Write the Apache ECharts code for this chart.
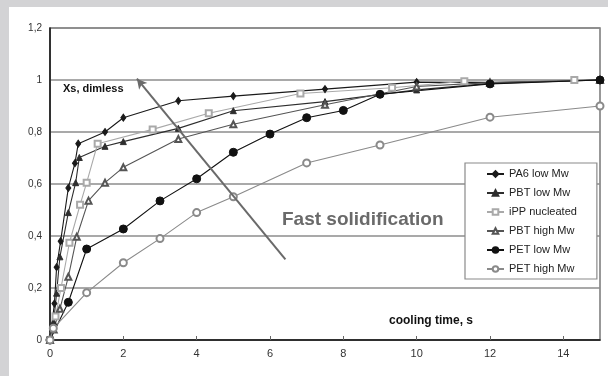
<!DOCTYPE html>
<html><head><meta charset="utf-8">
<script src="https://cdn.jsdelivr.net/npm/echarts@6/dist/echarts.min.js"></script>
<style>
html,body{margin:0;padding:0;background:#d3d3d5;width:608px;height:376px;overflow:hidden}
#c{position:absolute;left:9px;top:7px;width:599px;height:369px;background:#fff}
</style></head>
<body><div id="c"></div>
<script>
const seriesNames = ['PA6 low Mw','PBT low Mw','iPP nucleated','PBT high Mw','PET low Mw','PET high Mw'];
const pa6Low = [[0,0],[0.12,0.14],[0.18,0.28],[0.29,0.38],[0.5,0.585],[0.68,0.68],[0.77,0.755],[1.5,0.8],[2,0.855],[3.5,0.92],[5,0.938],[7.5,0.965],[10,0.992],[12,0.99],[15,1.0]];
const pbtLow = [[0,0],[0.1,0.07],[0.18,0.18],[0.27,0.32],[0.5,0.49],[0.7,0.605],[0.8,0.702],[1.5,0.745],[2,0.763],[3.5,0.814],[5,0.882],[7.5,0.917],[10,0.962],[12,0.987],[15,1.0]];
const ippNuc = [[0,0],[0.15,0.09],[0.3,0.2],[0.53,0.374],[0.82,0.52],[1.0,0.605],[1.3,0.755],[2.8,0.81],[4.33,0.872],[6.83,0.948],[9.33,0.97],[11.3,0.995],[14.3,1.0]];
const pbtHigh = [[0,0],[0.1,0.04],[0.27,0.12],[0.5,0.243],[0.73,0.397],[1.05,0.536],[1.5,0.605],[2,0.664],[3.5,0.773],[5,0.83],[7.5,0.905],[10,0.975],[12,0.99],[15,1.0]];
const petLow = [[0,0],[0.5,0.145],[1,0.35],[2,0.427],[3,0.535],[4,0.62],[5,0.722],[6,0.792],[7,0.855],[8,0.883],[9,0.945],[12,0.985],[15,1.0]];
const petHigh = [[0,0],[0.09,0.045],[1,0.182],[2,0.297],[3,0.39],[4,0.49],[5,0.551],[7,0.681],[9,0.75],[12,0.857],[15,0.9]];
const arrowStart = [6.42, 0.31];
const arrowEnd = [2.37, 1.005];
const xTicks = [0,2,4,6,8,10,12,14];
const yTicks = [0,0.2,0.4,0.6,0.8,1,1.2];

const symbols = ['diamond','triangle','emptyRect','emptyTriangle','circle','emptyCircle'];
const sizes = [[5,7],6,6,6,8,7];
const colors = ['#1a1a1a','#2e2e2e','#a9a9a9','#555555','#111111','#8a8a8a'];
const datas = [pa6Low,pbtLow,ippNuc,pbtHigh,petLow,petHigh];

const chart = echarts.init(document.getElementById('c'), null, {renderer:'canvas'});
const series = datas.map((d,i)=>({
  name: seriesNames[i], type:'line', data:d, symbol:symbols[i], symbolSize:sizes[i],
  showAllSymbol:true, smooth:false, z: 3,
  itemStyle:{color:colors[i], borderColor:colors[i], borderWidth:1},
  lineStyle:{color:colors[i], width:1.1}
}));
series.push({
  type:'line', data:[], silent:true, z:4,
  markLine:{silent:true, symbol:['none','arrow'], symbolSize:[8,10], animation:false,
    lineStyle:{color:'#6a6a6a', width:2, type:'solid'}, label:{show:false},
    data:[[{coord:arrowStart},{coord:arrowEnd}]]}
});

chart.setOption({
  animation:false,
  backgroundColor:'#fff',
  grid:{left:41, right:8, top:21, bottom:36, show:true, borderColor:'#777', borderWidth:1.5},
  xAxis:{type:'value', min:0, max:15, interval:2,
    axisLine:{lineStyle:{color:'#111', width:1.5}},
    axisTick:{inside:true, length:4, lineStyle:{color:'#666'}},
    axisLabel:{color:'#333', fontSize:11, fontFamily:'Liberation Sans', margin:8, showMaxLabel:false,
      formatter:v=> xTicks.includes(v)? String(v):''},
    splitLine:{show:false}},
  yAxis:{type:'value', min:0, max:1.2, interval:0.2,
    axisLine:{show:true, lineStyle:{color:'#111', width:1.5}},
    axisTick:{show:false},
    axisLabel:{color:'#333', fontSize:10, fontFamily:'Liberation Sans', margin:8,
      formatter:v=>{const t=yTicks.find(k=>Math.abs(k-v)<1e-6); if(t===undefined) return ''; return t===0?'0':(Number.isInteger(t)?String(t):t.toFixed(1).replace('.',','));}},
    splitLine:{show:true, lineStyle:{color:'#8c8c8c', width:1.5}}},
  legend:{orient:'vertical', left:456, top:156, data:seriesNames,
    backgroundColor:'#fff', borderColor:'#8a8a8a', borderWidth:1.2,
    padding:[5,20,4,21], itemWidth:17, itemHeight:7, itemGap:7,
    textStyle:{color:'#222', fontSize:11, fontFamily:'Liberation Sans', lineHeight:12}},
  graphic:[
    {type:'text', left:54, top:76, style:{text:'Xs, dimless', font:'bold 11px "Liberation Sans"', fill:'#111'}},
    {type:'text', left:273, top:203, style:{text:'Fast solidification', font:'bold 19px "Liberation Sans"', fill:'#6a6a6a'}},
    {type:'text', left:380, top:308, style:{text:'cooling time, s', font:'bold 12px "Liberation Sans"', fill:'#111'}}
  ],
  series: series
});
</script></body></html>
